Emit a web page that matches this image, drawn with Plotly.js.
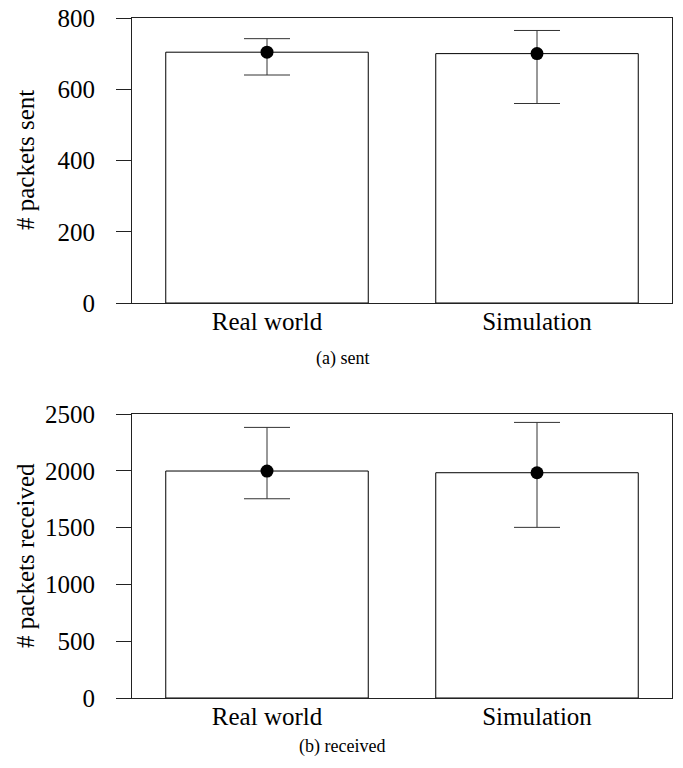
<!DOCTYPE html>
<html>
<head>
<meta charset="utf-8">
<script src="https://cdn.plot.ly/plotly-3.0.1.min.js"></script>
<style>html,body{margin:0;padding:0;background:#fff;}#chart{width:683px;height:768px;}</style>
</head>
<body>
<div id="chart"></div>
<script>
const categories = ["Real world", "Simulation"];
const sentMean = [704, 700];
const sentUpper = [742, 765];
const sentLower = [640, 560];
const recvMean = [1998, 1983];
const recvUpper = [2382, 2426];
const recvLower = [1754, 1502];
const sentTicks = [0, 200, 400, 600, 800];
const recvTicks = [0, 500, 1000, 1500, 2000, 2500];

const font = "'Liberation Serif', 'Times New Roman', Times, serif";

function barTrace(vals, xa, ya) {
  return {type: "bar", x: categories, y: vals, xaxis: xa, yaxis: ya, width: 0.75,
    marker: {color: "#ffffff", line: {color: "#000000", width: 1}}, hoverinfo: "none", showlegend: false};
}
function errTrace(vals, up, lo, xa, ya) {
  return {type: "scatter", mode: "markers", x: categories, y: vals, xaxis: xa, yaxis: ya,
    marker: {color: "#000000", size: 13},
    error_y: {type: "data", symmetric: false,
      array: up.map((u, i) => u - vals[i]),
      arrayminus: lo.map((l, i) => vals[i] - l),
      color: "#333333", thickness: 1, width: 23},
    hoverinfo: "none", showlegend: false};
}

const data = [
  barTrace(sentMean, "x", "y"),
  errTrace(sentMean, sentUpper, sentLower, "x", "y"),
  barTrace(recvMean, "x2", "y2"),
  errTrace(recvMean, recvUpper, recvLower, "x2", "y2")
];

const axisCommon = {showgrid: false, zeroline: false, showline: true, linecolor: "#222", linewidth: 1, mirror: true};
const xCommon = Object.assign({}, axisCommon, {range: [-0.5, 1.5], ticks: "", ticklabelstandoff: -4,
  tickfont: {family: font, size: 25, color: "#000"}, fixedrange: true});
const yCommon = Object.assign({}, axisCommon, {ticks: "outside", ticklen: 15, tickcolor: "#222", tickwidth: 1,
  ticklabelstandoff: 16,
  tickfont: {family: font, size: 25, color: "#000"}, fixedrange: true});

const L = 132, R = 11, T = 18, B = 70, PW = 683 - L - R, PH = 768 - T - B;
const px = v => (v - L) / PW;
const py = v => (768 - B - v) / PH;

const layout = {
  width: 683, height: 768,
  margin: {l: L, r: R, t: T, b: B},
  paper_bgcolor: "#fff", plot_bgcolor: "#fff",
  font: {family: font, color: "#000"},
  xaxis: Object.assign({}, xCommon, {anchor: "y", domain: [0, 1]}),
  yaxis: Object.assign({}, yCommon, {anchor: "x", domain: [py(303), 1], range: [0, 800], tickvals: sentTicks}),
  xaxis2: Object.assign({}, xCommon, {anchor: "y2", domain: [0, 1]}),
  yaxis2: Object.assign({}, yCommon, {anchor: "x2", domain: [0, py(414)], range: [0, 2500], tickvals: recvTicks}),
  annotations: [
    {text: "# packets sent", xref: "paper", yref: "paper", x: px(25), y: py(160), textangle: -90,
      xanchor: "center", yanchor: "middle", showarrow: false, font: {family: font, size: 25, color: "#000"}},
    {text: "# packets received", xref: "paper", yref: "paper", x: px(25), y: py(556), textangle: -90,
      xanchor: "center", yanchor: "middle", showarrow: false, font: {family: font, size: 25, color: "#000"}},
    {text: "(a) sent", xref: "paper", yref: "paper", x: px(342), y: py(358), xanchor: "center", yanchor: "middle", showarrow: false,
      font: {family: font, size: 18, color: "#000"}},
    {text: "(b) received", xref: "paper", yref: "paper", x: px(342), y: py(746), xanchor: "center", yanchor: "middle", showarrow: false,
      font: {family: font, size: 18, color: "#000"}}
  ]
};

Plotly.newPlot("chart", data, layout, {displayModeBar: false, staticPlot: true});
</script>
</body>
</html>
